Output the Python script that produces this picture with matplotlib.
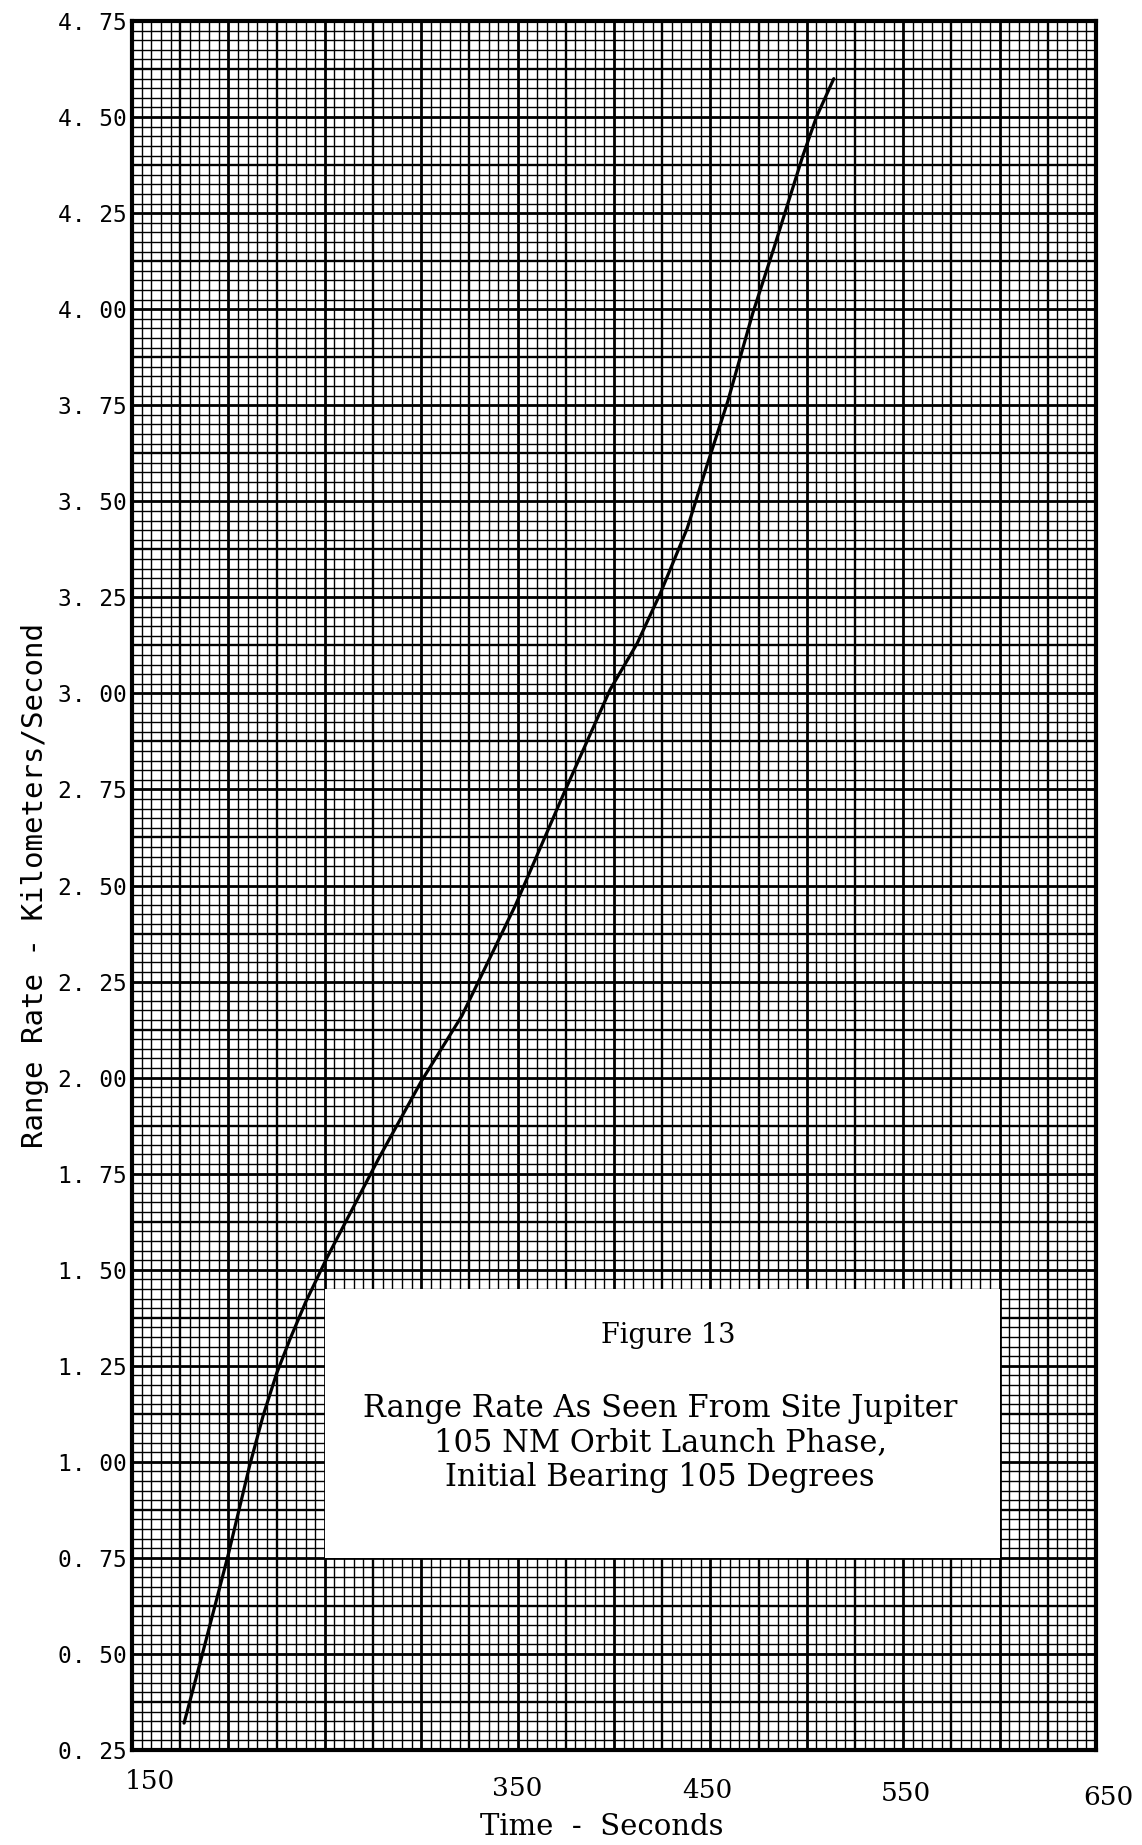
import numpy as np
import matplotlib
matplotlib.use('Agg')
import matplotlib.pyplot as plt
from matplotlib.patches import Rectangle

# curve
time_s = [177, 186, 200, 211, 218, 225, 232, 240, 251, 278, 300, 321, 349,
          374, 398, 412, 424, 438, 448, 459, 472, 483, 498, 505, 514]
range_rate = [0.32, 0.49, 0.76, 0.99, 1.12, 1.23, 1.32, 1.415, 1.53, 1.79,
              1.99, 2.16, 2.45, 2.74, 3.01, 3.13, 3.26, 3.43, 3.59, 3.76,
              3.99, 4.16, 4.40, 4.50, 4.60]

x_ticks = [150, 350, 450, 550, 650]
y_ticks = [0.25, 0.50, 0.75, 1.00, 1.25, 1.50, 1.75, 2.00, 2.25, 2.50,
           2.75, 3.00, 3.25, 3.50, 3.75, 4.00, 4.25, 4.50, 4.75]
y_tick_labels = [f'{v:.2f}'.replace('.', '. ') for v in y_ticks]

caption_title = 'Figure 13'
caption_lines = ['Range Rate As Seen From Site Jupiter',
                 '105 NM Orbit Launch Phase,',
                 'Initial Bearing 105 Degrees']

MONO = 'DejaVu Sans Mono'
SERIF = 'DejaVu Serif'

fig = plt.figure(figsize=(11.42, 18.45), dpi=100)
fig.patch.set_facecolor('white')
ax = fig.add_axes([0.1156, 0.0515, 0.8441, 0.9371])
ax.set_xlim(150, 650)
ax.set_ylim(0.25, 4.75)

# ── graph paper grid ────────────────────────────────────────────────
for i in range(101):
    x = 150 + 5 * i
    lw = 2.0 if i % 10 == 0 else (1.7 if i % 5 == 0 else 1.0)
    ax.axvline(x, color='black', lw=lw, zorder=1)
for i in range(181):
    y = 0.25 + 0.025 * i
    lw = 2.0 if i % 10 == 0 else (1.7 if i % 5 == 0 else 1.0)
    ax.axhline(y, color='black', lw=lw, zorder=1)

# ── caption box ─────────────────────────────────────────────────────
ax.add_patch(Rectangle((250, 0.75), 350, 0.70, facecolor='white',
                       edgecolor='none', zorder=2))
ax.text(428, 1.33, caption_title, ha='center', va='center',
        fontsize=19.5, family=SERIF, zorder=3)
for line, yy in zip(caption_lines, [1.140, 1.049, 0.958]):
    ax.text(424, yy, line, ha='center', va='center',
            fontsize=22, family=SERIF, zorder=3)

# ── curve ───────────────────────────────────────────────────────────
ax.plot(time_s, range_rate, color='black', lw=2.3, zorder=4,
        solid_capstyle='round', solid_joinstyle='round')

# x labels are hand-lettered and sit a little off their grid lines
ax.set_xticks([])
x_offsets = [(13, -23), (0, -28), (-2, -29.5), (2, -31), (9, -34)]
for v, (dx, dy) in zip(x_ticks, x_offsets):
    ax.annotate(str(v), xy=(v, 0), xycoords=ax.get_xaxis_transform(),
                xytext=(dx, dy), textcoords='offset points',
                ha='center', va='center', family=SERIF, fontsize=19,
                annotation_clip=False)

ax.set_yticks(y_ticks)
ax.set_yticklabels(y_tick_labels, family=MONO, fontsize=16.5)
ax.tick_params(axis='y', length=0, pad=4)

ax.set_xlabel('Time  -  Seconds', family=SERIF, fontsize=21)
ax.xaxis.set_label_coords(0.4876, -0.0445)
ax.xaxis.label.set_va('center')
ax.set_ylabel('Range Rate - Kilometers/Second', family=MONO,
              fontsize=21, labelpad=6)

for s in ax.spines.values():
    s.set_linewidth(3)
    s.set_zorder(5)

fig.savefig('out.png', dpi=100, facecolor='white')
